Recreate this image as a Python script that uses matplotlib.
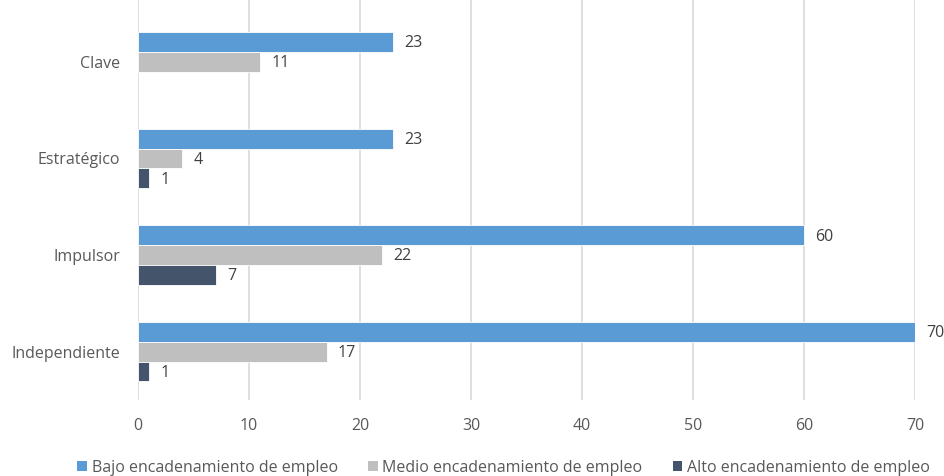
import numpy as np
import matplotlib.pyplot as plt
from matplotlib.patches import Patch

plt.rcParams['font.family'] = ['Open Sans', 'DejaVu Sans']

categorias = ['Clave', 'Estratégico', 'Impulsor', 'Independiente']
series = ['Bajo encadenamiento de empleo',
          'Medio encadenamiento de empleo',
          'Alto encadenamiento de empleo']
bajo = [23, 23, 60, 70]
medio = [11, 4, 22, 17]
alto = [0, 1, 7, 1]

colores = ['#5B9BD5', '#BFBFBF', '#44546A']
texto = '#404040'

fig = plt.figure(figsize=(9.45, 4.76), dpi=100)
ax = fig.add_axes([138 / 945, 76 / 476, 777 / 945, 400 / 476])

y = np.arange(len(categorias))
h = 0.205
for i, (vals, col) in enumerate(zip([bajo, medio, alto], colores)):
    pos = y + (i - 1) * h
    for p, v in zip(pos, vals):
        if v == 0:
            continue
        ax.barh(p, v, height=h, color=col, edgecolor='white', linewidth=0.6, zorder=3)
        ax.annotate(str(v), (v, p), xytext=(8, -1), textcoords='offset points',
                    va='center', ha='left', fontsize=11.5, color=texto,
                    annotation_clip=False)

ax.set_xlim(0, 70)
ax.set_ylim(3.5, -0.64)
ax.set_xticks(range(0, 71, 10))
ax.set_yticks(y)
ax.set_yticklabels(categorias)
ax.xaxis.grid(True, color='#D9D9D9', linewidth=1.2, zorder=0)
ax.tick_params(axis='both', length=0, labelsize=11.5, colors='#595959')
ax.tick_params(axis='x', pad=13)
ax.tick_params(axis='y', pad=13)
for s in ax.spines.values():
    s.set_visible(False)

handles = [Patch(facecolor=c, edgecolor='none') for c in colores]
fig.legend(handles, series, loc='lower center', bbox_to_anchor=(0.533, -0.03),
           ncol=3, frameon=False, fontsize=11.5, handlelength=0.6, handleheight=0.6,
           handletextpad=0.3, columnspacing=1.9, labelcolor='#595959')

fig.savefig('out.png', dpi=100)
